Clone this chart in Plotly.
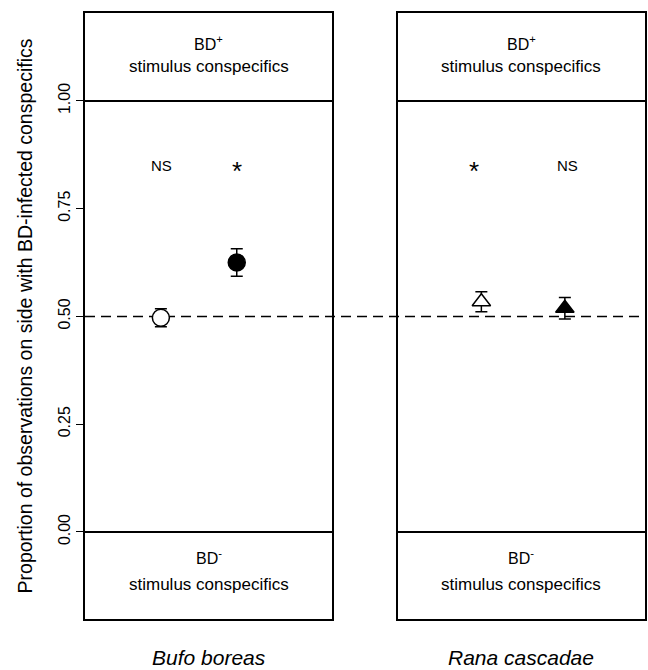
import plotly.graph_objects as go

# ---- data ----
species = ["Bufo boreas", "Rana cascadae"]
groups = [1, 2]
bufo_mean = [0.497, 0.625]
bufo_err = [0.021, 0.032]
rana_mean = [0.534, 0.519]
rana_err = [0.023, 0.025]
bufo_sig = ["NS", "*"]
rana_sig = ["*", "NS"]
yticks = [0.0, 0.25, 0.5, 0.75, 1.0]
ytick_labels = ["0.00", "0.25", "0.50", "0.75", "1.00"]

FONT = "Liberation Sans, Arial, sans-serif"
BLACK = "black"

fig = go.Figure()

# Bufo boreas: open circle, filled circle
for i, fill in enumerate(["white", "black"]):
    fig.add_trace(go.Scatter(
        x=[groups[i]], y=[bufo_mean[i]], mode="markers",
        marker=dict(symbol="circle", size=17, color=fill, line=dict(color=BLACK, width=1.5)),
        error_y=dict(type="data", array=[bufo_err[i]], color=BLACK, thickness=1.5, width=6),
        xaxis="x", yaxis="y", showlegend=False, cliponaxis=False))

# Rana cascadae: open triangle, filled triangle
for i, fill in enumerate(["white", "black"]):
    fig.add_trace(go.Scatter(
        x=[groups[i]], y=[rana_mean[i]], mode="markers",
        marker=dict(symbol="triangle-up", size=16, color=fill, line=dict(color=BLACK, width=1.5)),
        error_y=dict(type="data", array=[rana_err[i]], color=BLACK, thickness=1.5, width=6),
        xaxis="x2", yaxis="y2", showlegend=False, cliponaxis=False))

yrange = [-0.202, 1.204]
left_dom = [0.0, 0.4413]
right_dom = [0.5587, 1.0]

axis_common = dict(showline=True, linecolor=BLACK, linewidth=2, mirror=True,
                   showgrid=False, zeroline=False)

fig.update_layout(
    width=648, height=670,
    margin=dict(l=85, r=1, t=13, b=51),
    paper_bgcolor="white", plot_bgcolor="white",
    font=dict(family=FONT, color=BLACK),
    xaxis=dict(domain=left_dom, range=[0, 3.257], showticklabels=False, ticks="",
               anchor="y", **axis_common),
    xaxis2=dict(domain=right_dom, range=[0, 2.96], showticklabels=False, ticks="",
                anchor="y2", **axis_common),
    yaxis=dict(range=yrange, tickvals=yticks, ticktext=ytick_labels, ticks="outside",
               ticklen=7, tickwidth=1, tickcolor=BLACK, tickangle=-90,
               tickfont=dict(size=16, family=FONT),
               title=dict(text="Proportion of observations on side with BD-infected conspecifics",
                          font=dict(size=19.5, family=FONT), standoff=18),
               anchor="x", **axis_common),
    yaxis2=dict(range=yrange, anchor="x2", showticklabels=False, ticks="", **axis_common),
)

shapes = []
# solid lines at 0 and 1 in each panel
for xr, yr in [("x domain", "y"), ("x2 domain", "y2")]:
    for yv in [0.0, 1.0]:
        shapes.append(dict(type="line", xref=xr, yref=yr, x0=0, x1=1, y0=yv, y1=yv,
                           line=dict(color=BLACK, width=2)))
# dashed line at 0.5 across both panels
shapes.append(dict(type="line", xref="paper", yref="y", x0=0, x1=1, y0=0.5, y1=0.5,
                   line=dict(color=BLACK, width=1.5, dash="10px,6px"), layer="below"))
fig.update_layout(shapes=shapes)

ann = []
for xr, yr in [("x domain", "y"), ("x2 domain", "y2")]:
    ann.append(dict(text="BD<sup>+</sup>", x=0.5, y=1.134, xref=xr, yref=yr, showarrow=False,
                    xanchor="center", font=dict(size=16)))
    ann.append(dict(text="stimulus conspecifics", x=0.5, y=1.081, xref=xr, yref=yr, showarrow=False,
                    xanchor="center", font=dict(size=17)))
    ann.append(dict(text="BD<sup>-</sup>", x=0.5, y=-0.058, xref=xr, yref=yr, showarrow=False,
                    xanchor="center", font=dict(size=16)))
    ann.append(dict(text="stimulus conspecifics", x=0.5, y=-0.122, xref=xr, yref=yr, showarrow=False,
                    xanchor="center", font=dict(size=17)))

sig_pos_bufo = [1.01, 2.0]
sig_pos_rana = [0.91, 2.03]


def sig_ann(s, xp, xr, yr):
    if s == "NS":
        return dict(text=s, x=xp, y=0.85, xref=xr, yref=yr, showarrow=False,
                    xanchor="center", font=dict(size=15))
    return dict(text=s, x=xp, y=0.85, xref=xr, yref=yr, showarrow=False,
                xanchor="center", yshift=-5, font=dict(size=26))


for s, xp in zip(bufo_sig, sig_pos_bufo):
    ann.append(sig_ann(s, xp, "x", "y"))
for s, xp in zip(rana_sig, sig_pos_rana):
    ann.append(sig_ann(s, xp, "x2", "y2"))

for sp, dom in zip(species, [left_dom, right_dom]):
    ann.append(dict(text=f"<i>{sp}</i>", x=(dom[0] + dom[1]) / 2, y=-0.064, xref="paper", yref="paper",
                    showarrow=False, xanchor="center", yanchor="middle", font=dict(size=21)))
fig.update_layout(annotations=ann)

fig.write_html("out.html")
